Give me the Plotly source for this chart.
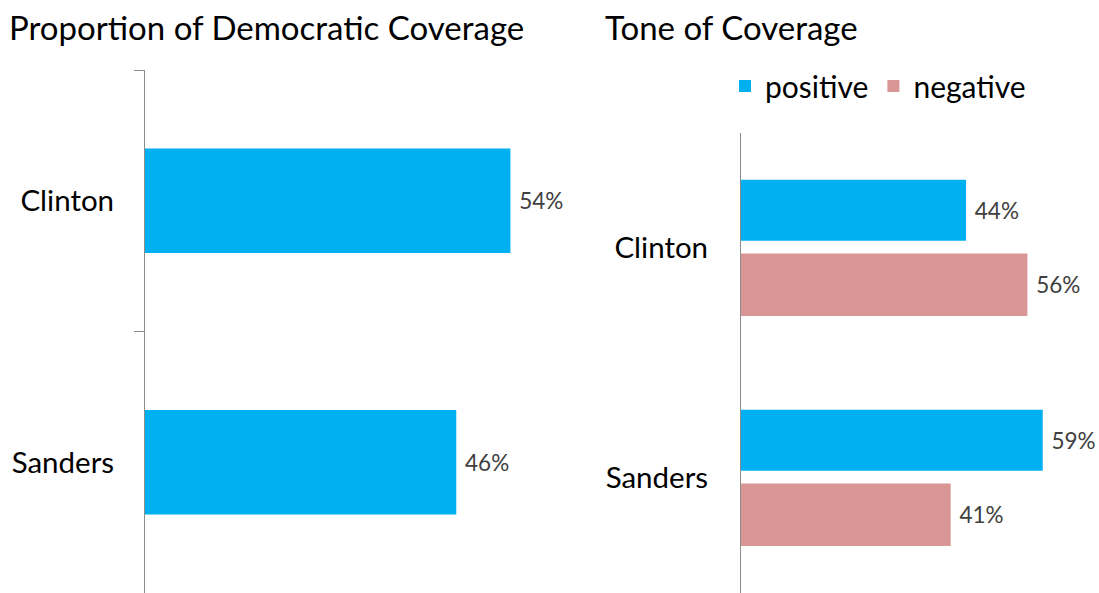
import plotly.graph_objects as go

W, H = 1099, 593

candidates = ["Clinton", "Sanders"]
share = [54, 46]
positive = [44, 59]
negative = [56, 41]

BLUE = "#00B0F0"
PINK = "#D99694"
FONT = "Lato, 'Open Sans', sans-serif"
TXT = "#404040"


def fx(px):
    return px / W


def fy(py):
    return 1 - py / H


fig = go.Figure()

fig.add_trace(go.Bar(
    y=candidates, x=share, orientation="h",
    marker=dict(color=BLUE, line=dict(width=0)),
    width=0.4, offset=-0.2,
    texttemplate=" %{x}%", textposition="outside",
    textfont=dict(size=22.5, color=TXT, family=FONT),
    xaxis="x", yaxis="y", showlegend=False, cliponaxis=False,
))

fig.add_trace(go.Bar(
    y=candidates, x=positive, orientation="h", name="positive",
    marker=dict(color=BLUE, line=dict(width=0)),
    width=0.265, offset=-0.297,
    texttemplate=" %{x}%", textposition="outside",
    textfont=dict(size=22.5, color=TXT, family=FONT),
    xaxis="x2", yaxis="y2", cliponaxis=False,
))
fig.add_trace(go.Bar(
    y=candidates, x=negative, orientation="h", name="negative",
    marker=dict(color=PINK, line=dict(width=0)),
    width=0.272, offset=0.024,
    texttemplate=" %{x}%", textposition="outside",
    textfont=dict(size=22.5, color=TXT, family=FONT),
    xaxis="x2", yaxis="y2", cliponaxis=False,
))

hidden_x = dict(showline=False, showgrid=False, zeroline=False,
                showticklabels=False, ticks="")

fig.update_layout(
    width=W, height=H,
    margin=dict(l=0, r=0, t=0, b=0),
    paper_bgcolor="white", plot_bgcolor="white",
    barmode="overlay",
    font=dict(family=FONT, color="#000000"),
    xaxis=dict(domain=[fx(145), fx(145 + 406)], range=[0, 60], **hidden_x),
    yaxis=dict(domain=[0, fy(70)], autorange="reversed",
               showline=True, linecolor="#8c8c8c", linewidth=1,
               ticks="outside", ticklen=10, tickcolor="#8c8c8c",
               tickson="boundaries", showgrid=False,
               tickfont=dict(size=29.5, color="#000000", family=FONT),
               ticklabelstandoff=24, anchor="x"),
    xaxis2=dict(domain=[fx(741), 1], range=[0, 70], anchor="y2", **hidden_x),
    yaxis2=dict(domain=[0, fy(133)], autorange="reversed",
                showline=True, linecolor="#8c8c8c", linewidth=1,
                ticks="", showgrid=False,
                tickfont=dict(size=29.5, color="#000000", family=FONT),
                ticklabelstandoff=26, anchor="x2"),
    legend=dict(orientation="h", x=fx(725), xanchor="left",
                y=fy(60), yanchor="top",
                font=dict(size=30, color="#000000", family=FONT),
                bgcolor="rgba(0,0,0,0)", itemwidth=30, traceorder="normal"),
    annotations=[
        dict(text="Proportion of Democratic Coverage", x=fx(7), y=fy(27),
             xref="paper", yref="paper", xanchor="left", yanchor="middle",
             showarrow=False, font=dict(size=33, color="#000000", family=FONT)),
        dict(text="Tone of Coverage", x=fx(603), y=fy(27),
             xref="paper", yref="paper", xanchor="left", yanchor="middle",
             showarrow=False, font=dict(size=33, color="#000000", family=FONT)),
    ],
)

fig.write_html(
    "out.html",
    config={"displayModeBar": False},
    post_script="document.body.style.margin='0';document.body.style.overflow='hidden';",
)
